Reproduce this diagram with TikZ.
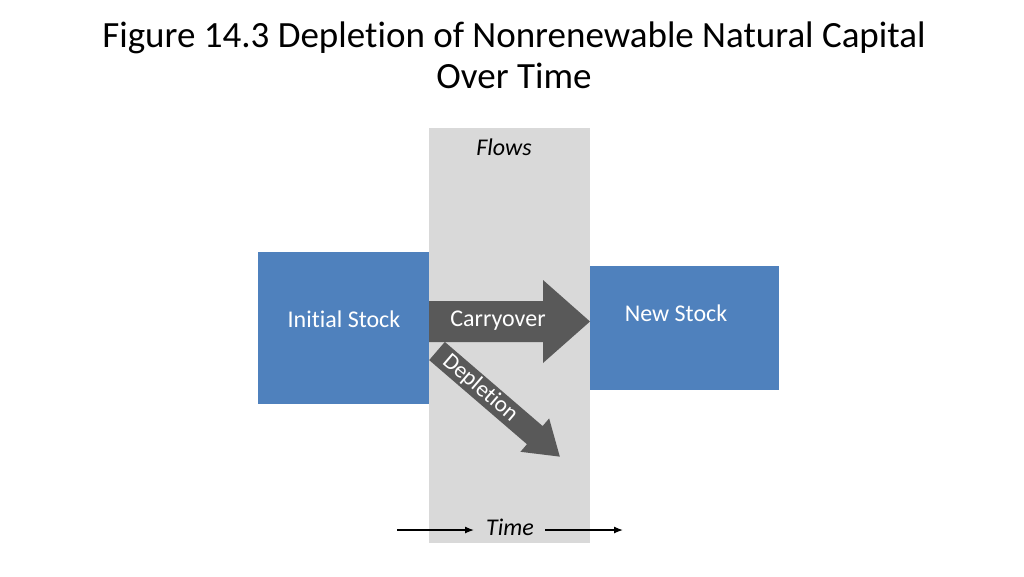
\documentclass[tikz,border=0pt]{standalone}
\usepackage{fontspec}
\setmainfont[Ligatures=NoCommon]{Carlito}
\usetikzlibrary{arrows.meta}
\definecolor{boxblue}{HTML}{4F81BD}
\definecolor{band}{HTML}{D9D9D9}
\definecolor{arr}{HTML}{595959}
\begin{document}
\begin{tikzpicture}[x=1pt,y=-1pt,
  stock/.style={fill=boxblue,draw=none,text=white},
  lbl/.style={text=white,font=\fontsize{24}{28}\selectfont}]
\useasboundingbox (0,0) rectangle (1024,576);
\fill[white] (0,0) rectangle (1024,576);
\node[font=\fontsize{37}{41}\selectfont,align=center] (title) at (514,55) {Figure 14.3 Depletion of Nonrenewable Natural Capital\\Over Time};
\fill[band] (429,128) rectangle (590,543);
\node[font=\itshape\fontsize{24}{28}\selectfont] (flows) at (504,147) {Flows};
\node[stock,minimum width=171,minimum height=152,inner sep=0] (init) at (343.5,328) {};
\node[lbl] at (344,319) {Initial Stock};
\node[stock,minimum width=189,minimum height=124,inner sep=0] (new) at (684.5,328) {};
\node[lbl] at (676,313) {New Stock};
\begin{scope}[shift={(437,351)},rotate=-40.7]
\fill[arr] (0,-12) -- (129,-12) -- (129,-22) -- (162,0) -- (129,22) -- (129,12) -- (0,12) -- cycle;
\node[text=white,font=\fontsize{23}{26}\selectfont,rotate=-40.7] (dep) at (57,0) {Depletion};
\end{scope}
\fill[arr] (429,301) -- (543,301) -- (543,280) -- (590,321.5) -- (543,363) -- (543,342) -- (429,342) -- cycle;
\node[lbl] (carry) at (498,321) {Carryover};
\node[font=\itshape\fontsize{24}{28}\selectfont] (time) at (510,527) {Time};
\coordinate (tl) at (397,530);
\coordinate (tr) at (623,530);
\draw[-{Latex[length=9pt,width=7pt]},line width=1.3pt] (tl) -- (474,530);
\draw[-{Latex[length=9pt,width=7pt]},line width=1.3pt] (545,530) -- (tr);
\end{tikzpicture}
\end{document}
